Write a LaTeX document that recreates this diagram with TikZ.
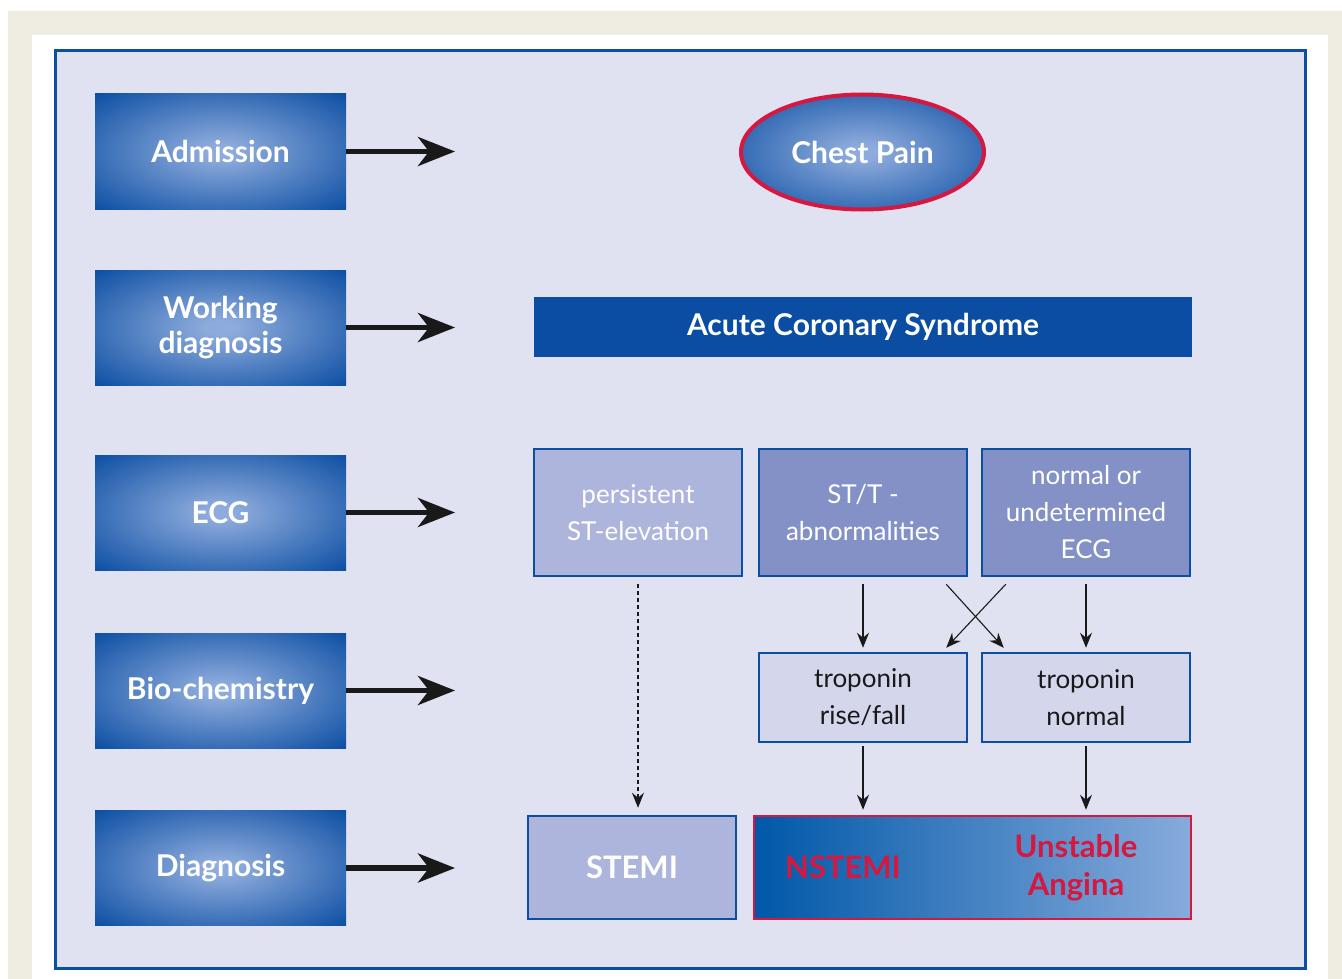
\documentclass[tikz,border=0pt]{standalone}
\usepackage{fontspec}
\setmainfont{Lato}
\usetikzlibrary{arrows.meta,shapes.geometric,calc}
\definecolor{beige}{HTML}{EFECE2}
\definecolor{panel}{HTML}{E0E2F1}
\definecolor{frameblue}{HTML}{0B4FA3}
\definecolor{darkblue}{HTML}{0A4DA2}
\definecolor{lightblue}{HTML}{8DABDC}
\definecolor{paleA}{HTML}{ADB5DC}
\definecolor{midA}{HTML}{8391C7}
\definecolor{paleB}{HTML}{D4D7EC}
\definecolor{crimson}{HTML}{D6173F}
\definecolor{gradL}{HTML}{0058A8}
\definecolor{gradR}{HTML}{87ABDB}
\pgfdeclareradialshading{stageshade}{\pgfpoint{0bp}{0bp}}{color(0bp)=(lightblue); color(3bp)=(lightblue); color(36bp)=(darkblue); color(100bp)=(darkblue)}
\tikzset{
  stage/.style={rectangle, minimum width=251pt, minimum height=115pt, inner sep=0pt,
    shading=stageshade,
    text=white, font=\bfseries\fontsize{30}{35}\selectfont, align=center},
  bigarrow/.style={line width=5.5pt, draw=black!90, -{Stealth[length=37pt,width=29pt,inset=11pt]}},
  ecgbox/.style={rectangle, draw=frameblue, line width=2.5pt, minimum width=208pt, minimum height=127pt,
    inner sep=0pt, text=white, font=\fontsize{26}{37}\selectfont, align=center},
  tropbox/.style={rectangle, draw=frameblue, line width=2.5pt, fill=paleB, minimum width=208pt, minimum height=89pt,
    inner sep=0pt, text=black!90, font=\fontsize{26}{37}\selectfont, align=center},
  thinarrow/.style={line width=1.1pt, draw=black!90, -{Stealth[length=15pt,width=12pt,inset=5pt]}},
  redtext/.style={text=crimson, font=\bfseries\fontsize{31}{38}\selectfont, align=center, inner sep=0pt}
}
\begin{document}
\begin{tikzpicture}[x=1pt,y=-1pt]
\useasboundingbox (0,0) rectangle (1342,979);
\fill[white] (0,0) rectangle (1342,979);
\fill[beige] (8,11) rectangle (1342,979);
\fill[white] (32,35) rectangle (1328,979);
\draw[frameblue, line width=3pt, fill=panel] (55,51) rectangle (1305,968);

% left stages
\node[stage] (adm) at (220.5,151.5) {Admission};
\node[stage] (wd)  at (220.5,327.5) {Working\\diagnosis};
\node[stage] (ecg) at (220.5,512.5) {ECG};
\node[stage] (bio) at (220.5,690.5) {Bio-chemistry};
\node[stage] (dia) at (220.5,868) {Diagnosis};

\coordinate (a1) at (455,151.5);
\coordinate (a2) at (455,327.5);
\coordinate (a3) at (455,512.5);
\coordinate (a4) at (455,690.5);
\coordinate (a5) at (455,868);
\draw[bigarrow] (adm.east) -- (a1);
\draw[bigarrow] (wd.east) -- (a2);
\draw[bigarrow] (ecg.east) -- (a3);
\draw[bigarrow] (bio.east) -- (a4);
\draw[bigarrow] (dia.east) -- (a5);

% Chest pain
\node[ellipse, draw=crimson, line width=4pt, minimum width=243pt, minimum height=115pt,
  shading=stageshade, text=white,
  font=\bfseries\fontsize{30}{32}\selectfont, inner sep=0pt] (cp) at (862.5,152) {Chest Pain};

% ACS
\node[rectangle, fill=darkblue, minimum width=658pt, minimum height=60pt, inner sep=0pt,
  text=white, font=\bfseries\fontsize{30}{32}\selectfont] (acs) at (863,327) {Acute Coronary Syndrome};

% ECG row
\node[ecgbox, fill=paleA] (pers) at (638,512.5) {persistent\\ST-elevation};
\node[ecgbox, fill=midA] (stt) at (863,512.5) {ST/T -\\abnormalities};
\node[ecgbox, fill=midA] (nrm) at (1086,512.5) {normal or\\undetermined\\ECG};

% troponin row
\node[tropbox] (tr) at (863,697.5) {troponin\\rise/fall};
\node[tropbox] (tn) at (1086,697.5) {troponin\\normal};

% diagnosis row
\node[rectangle, draw=frameblue, line width=2.5pt, fill=paleA, minimum width=208pt, minimum height=103pt,
  inner sep=0pt, text=white, font=\bfseries\fontsize{31}{33}\selectfont] (stemi) at (632,867.5) {STEMI};
\node[rectangle, draw=crimson, line width=2.5pt, left color=gradL, right color=gradR,
  minimum width=437pt, minimum height=103pt, inner sep=0pt] (nst) at (972.5,867.5) {};
\node[redtext] (nstl) at (843,867) {NSTEMI};
\node[redtext] (ua) at (1076,868) {Unstable\\Angina};

% connectors
\draw[thinarrow] ([yshift=-7pt]stt.south) -- ([yshift=4pt]tr.north);
\draw[thinarrow] ([yshift=-7pt]nrm.south) -- ([yshift=4pt]tn.north);
\draw[thinarrow] ([xshift=-22pt,yshift=-7pt]stt.south east) -- ([xshift=23pt,yshift=4pt]tn.north west);
\draw[thinarrow] ([xshift=25pt,yshift=-7pt]nrm.south west) -- ([xshift=-22pt,yshift=4pt]tr.north east);
\draw[thinarrow, dash pattern=on 4pt off 3pt] ([yshift=-7pt]pers.south) -- ([yshift=7pt]pers.south |- stemi.north);
\draw[thinarrow] ([yshift=-3pt]tr.south) -- ([yshift=5pt]tr.south |- nst.north);
\draw[thinarrow] ([yshift=-3pt]tn.south) -- ([yshift=5pt]tn.south |- nst.north);
\end{tikzpicture}
\end{document}
